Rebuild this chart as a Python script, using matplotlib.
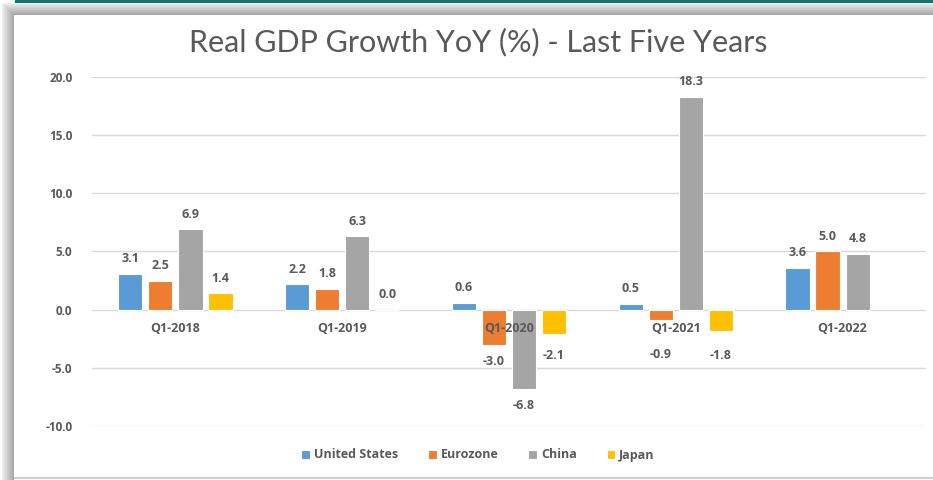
import numpy as np
import matplotlib.pyplot as plt
from matplotlib.patches import Rectangle

quarters = ['Q1-2018', 'Q1-2019', 'Q1-2020', 'Q1-2021', 'Q1-2022']
countries = ['United States', 'Eurozone', 'China', 'Japan']
us = [3.1, 2.2, 0.6, 0.5, 3.6]
eurozone = [2.5, 1.8, -3.0, -0.9, 5.0]
china = [6.9, 6.3, -6.8, 18.3, 4.8]
japan = [1.4, 0.0, -2.1, -1.8, np.nan]
colors = ['#5B9BD5', '#ED7D31', '#A5A5A5', '#FFC000']

W, H = 933, 480
fig = plt.figure(figsize=(W / 100, H / 100), dpi=100)
fig.patch.set_facecolor('white')

# frame look: teal top line and grey shadow
fig.patches.append(Rectangle((15 / W, 1 - 3 / H), 1, 3 / H, transform=fig.transFigure,
                             color='#17746c', zorder=0))
for k in range(12):
    g = 0.93 - 0.025 * k
    fig.patches.append(Rectangle(((2 + k) / W, 0), 1 / W, 1 - (3 + k) / H,
                                 transform=fig.transFigure, color=(g, g, g), zorder=0, lw=0))
    fig.patches.append(Rectangle(((2 + k) / W, 1 - (4 + k) / H), 1, 1 / H,
                                 transform=fig.transFigure, color=(g, g, g), zorder=0, lw=0))
fig.patches.append(Rectangle((14 / W, 1 / H), 1, 2.5 / H, transform=fig.transFigure,
                             color='#cfcfcf', zorder=0, lw=0))

ax = fig.add_axes([92 / W, 1 - 426 / H, (926 - 92) / W, (426 - 77) / H])
ax.set_facecolor('white')
px_per_unit = (426 - 77) / 30

fam = ['Open Sans', 'DejaVu Sans']
txt = '#595959'
x = np.arange(len(quarters))
bw = 0.145
step = 0.18
series = [us, eurozone, china, japan]
for i, (vals, c, name) in enumerate(zip(series, colors, countries)):
    pos = x + (i - 1.5) * step
    ax.bar(pos, vals, width=bw, color=c, edgecolor='white', linewidth=0.8,
           label=name, zorder=3)
    for p, v in zip(pos, vals):
        if np.isnan(v):
            continue
        if v >= 0:
            off = 15
        else:
            # keep negative labels clear of the category labels
            off = -max(abs(v) * px_per_unit + 17, 43 + abs(v) * 1.5)
        ax.annotate(f'{v:.1f}', (p, 0 if v < 0 else v), xytext=(0, off),
                    textcoords='offset pixels', ha='center', va='center',
                    fontsize=9, fontweight='bold', color=txt, family=fam, zorder=4)

for xi, q in zip(x, quarters):
    ax.annotate(q, (xi, 0), xytext=(0, -19), textcoords='offset pixels',
                ha='center', va='center', fontsize=9, fontweight='bold',
                color=txt, family=fam, zorder=5)

ax.set_xlim(-0.5, len(quarters) - 0.5)
ax.set_ylim(-10, 20)
ticks = np.arange(-10, 20.1, 5)
ax.set_yticks(ticks)
ax.set_yticklabels([f'{t:.1f}' for t in ticks])
ax.set_xticks([])
ax.tick_params(axis='y', length=0, pad=14, labelsize=8.5, labelcolor=txt)
for lab in ax.get_yticklabels():
    lab.set_fontweight('bold')
    lab.set_family(fam)
ax.grid(axis='y', color='#d9d9d9', linewidth=1, zorder=0)
for s in ax.spines.values():
    s.set_visible(False)

fig.text(478 / W, 1 - 42 / H, 'Real GDP Growth YoY (%) - Last Five Years',
         ha='center', va='center', fontsize=22, color=txt,
         family=['Lato', 'DejaVu Sans'])

leg = fig.legend(loc='center', bbox_to_anchor=(478 / W, 1 - 455 / H), ncol=4,
                 frameon=False, handlelength=0.7, handleheight=0.7, handletextpad=0.3,
                 columnspacing=2.4, prop={'family': fam, 'weight': 'bold', 'size': 9})
for t in leg.get_texts():
    t.set_color(txt)

fig.savefig('out.png', dpi=100)
